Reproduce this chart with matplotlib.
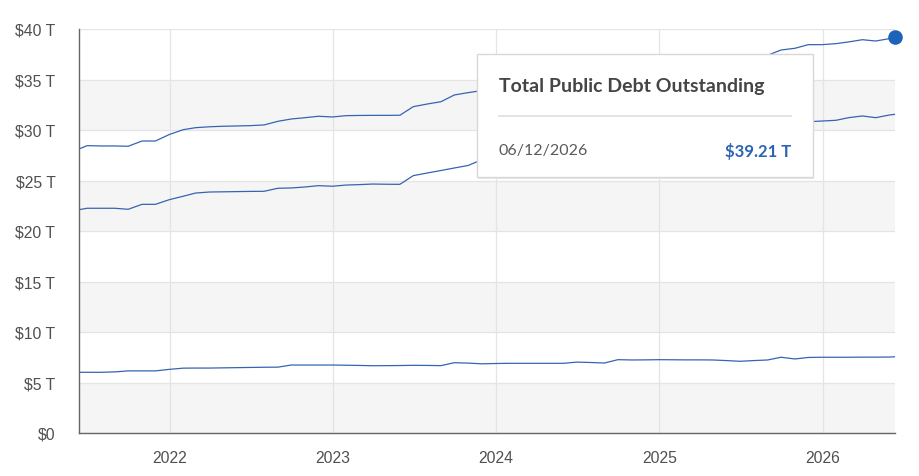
import matplotlib
matplotlib.use("Agg")
import matplotlib.pyplot as plt
import matplotlib.dates as mdates
import pandas as pd
from matplotlib.patches import Rectangle

# ---- data (trillions of dollars) ----
dates = ([pd.Timestamp("2021-06-12")]
         + list(pd.date_range("2021-06-30", "2026-05-31", freq="ME"))
         + [pd.Timestamp("2026-06-12")])

total_debt = [28.12, 28.45, 28.42, 28.42, 28.39, 28.91, 28.91, 29.55, 30.03, 30.23,
              30.32, 30.37, 30.40, 30.43, 30.50, 30.86, 31.09, 31.22, 31.36, 31.29,
              31.42, 31.44, 31.45, 31.45, 31.46, 32.31, 32.57, 32.80, 33.47, 33.70,
              33.90, 34.00, 34.20, 34.45, 34.60, 34.62, 34.68, 34.85, 35.10, 35.27,
              35.46, 35.95, 36.09, 36.22, 36.22, 36.22, 36.21, 36.21, 36.21, 36.21,
              37.00, 37.40, 37.92, 38.09, 38.45, 38.45, 38.55, 38.72, 38.94, 38.81,
              39.05, 39.21]

debt_public = [22.11, 22.25, 22.25, 22.25, 22.15, 22.64, 22.64, 23.10, 23.44, 23.76,
               23.86, 23.88, 23.90, 23.92, 23.93, 24.23, 24.26, 24.36, 24.49, 24.43,
               24.55, 24.59, 24.65, 24.63, 24.62, 25.48, 25.74, 25.99, 26.24, 26.49,
               27.05, 27.12, 27.30, 27.55, 27.70, 27.72, 27.78, 27.83, 28.12, 28.34,
               28.20, 28.72, 28.85, 28.96, 28.97, 28.98, 28.97, 28.98, 29.04, 29.11,
               29.83, 30.17, 30.42, 30.76, 30.82, 30.89, 30.96, 31.22, 31.39, 31.22,
               31.49, 31.55]

intragov = [6.01, 6.01, 6.01, 6.05, 6.15, 6.15, 6.15, 6.30, 6.42, 6.43,
            6.43, 6.45, 6.47, 6.49, 6.51, 6.52, 6.73, 6.73, 6.73, 6.73,
            6.71, 6.69, 6.66, 6.67, 6.68, 6.70, 6.69, 6.67, 6.96, 6.92,
            6.85, 6.88, 6.90, 6.90, 6.90, 6.90, 6.90, 7.02, 6.98, 6.93,
            7.26, 7.23, 7.24, 7.26, 7.25, 7.24, 7.24, 7.23, 7.17, 7.10,
            7.17, 7.23, 7.50, 7.33, 7.48, 7.50, 7.50, 7.50, 7.51, 7.51,
            7.52, 7.55]

y_ticks = [0, 5, 10, 15, 20, 25, 30, 35, 40]
y_tick_labels = ["$0", "$5 T", "$10 T", "$15 T", "$20 T", "$25 T", "$30 T", "$35 T", "$40 T"]
x_tick_years = [2022, 2023, 2024, 2025, 2026]

tooltip_title = "Total Public Debt Outstanding"
tooltip_date = "06/12/2026"
tooltip_value = "$39.21 T"

# ---- figure ----
W, H = 920, 477
fig = plt.figure(figsize=(W / 100, H / 100), dpi=100)
L, R, T, B = 79, 895, 30, 434
ax = fig.add_axes([L / W, 1 - B / H, (R - L) / W, (B - T) / H])

line_color = "#3863b3"
grid_color = "#e4e4e4"
band_color = "#f5f5f5"
text_color = "#505050"

ax.set_xlim(pd.Timestamp("2021-06-12"), pd.Timestamp("2026-06-12"))
ax.set_ylim(0, 40)

# alternating bands
for i, lo in enumerate(y_ticks[:-1]):
    if i % 2 == 0:
        ax.axhspan(lo, lo + 5, color=band_color, zorder=0, lw=0)
for v in y_ticks:
    ax.axhline(v, color=grid_color, lw=0.9, zorder=0.5)
for yr in x_tick_years:
    ax.axvline(pd.Timestamp(f"{yr}-01-01"), color=grid_color, lw=0.9, zorder=0.5)

for s in (total_debt, debt_public, intragov):
    ax.plot(dates, s, color=line_color, lw=0.9, zorder=2, solid_joinstyle="round")

ax.plot([dates[-1]], [total_debt[-1]], "o", color="#1f62ba", markersize=10.5,
        zorder=5, clip_on=False, markeredgewidth=0)

ax.set_yticks(y_ticks)
ax.set_yticklabels(y_tick_labels)
ax.set_xticks([pd.Timestamp(f"{y}-01-01") for y in x_tick_years])
ax.set_xticklabels([str(y) for y in x_tick_years])
ax.tick_params(axis="both", length=0, labelsize=11.3, labelcolor=text_color)
ax.tick_params(axis="y", pad=17)
ax.tick_params(axis="x", pad=12)
for lab in ax.get_xticklabels() + ax.get_yticklabels():
    lab.set_fontfamily("Liberation Sans")

for side in ("top", "right"):
    ax.spines[side].set_visible(False)
for side in ("left", "bottom"):
    ax.spines[side].set_color("#666666")
    ax.spines[side].set_linewidth(1.0)
ax.set_facecolor("white")

# ---- tooltip ----
def fx(px):
    return px / W

def fy(py):
    return 1 - py / H

bx0, by0, bx1, by1 = 477, 55, 813, 178
shadow = Rectangle((fx(bx0 + 1), fy(by1 + 2)), fx(bx1 - bx0), (by1 - by0) / H,
                   transform=fig.transFigure, facecolor="#e8e8e8", edgecolor="none", zorder=9)
fig.add_artist(shadow)
box = Rectangle((fx(bx0), fy(by1)), fx(bx1 - bx0), (by1 - by0) / H,
                transform=fig.transFigure, facecolor="white", edgecolor="#d8d8d8",
                lw=1.0, zorder=10)
fig.add_artist(box)
fig.add_artist(plt.Line2D([fx(499), fx(791)], [fy(117), fy(117)], transform=fig.transFigure,
                          color="#dedede", lw=1.2, zorder=11))
fig.text(fx(499), fy(87), tooltip_title, fontsize=14, fontweight="bold", color="#454545",
         family="Lato", va="center", ha="left", zorder=12)
fig.text(fx(499), fy(151), tooltip_date, fontsize=11.5, color="#5a5a5a",
         family="Lato", va="center", ha="left", zorder=12)
fig.text(fx(791), fy(151), tooltip_value, fontsize=12, fontweight="bold", color="#2b64b3",
         family="Lato", va="center", ha="right", zorder=12)

fig.savefig("out.png", dpi=100)
